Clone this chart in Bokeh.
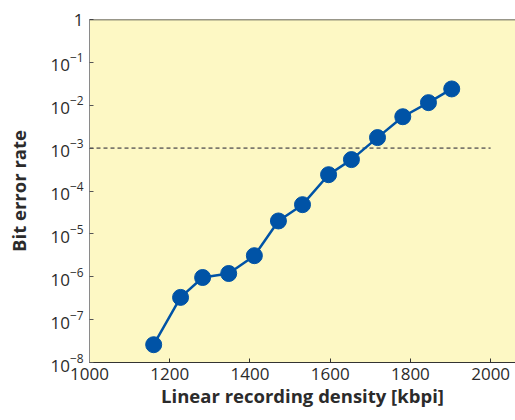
from bokeh.plotting import figure
from bokeh.models import FixedTicker, Span, LogTickFormatter
from bokeh.embed import file_html
from bokeh.resources import INLINE

density = [1160, 1227, 1282, 1347, 1411, 1471, 1531, 1596, 1653, 1718, 1781, 1845, 1903]
ber = [2.6e-8, 3.3e-7, 9.6e-7, 1.19e-6, 3.1e-6, 2.0e-5, 4.8e-5, 2.4e-4, 5.4e-4, 1.76e-3, 5.4e-3, 1.15e-2, 2.4e-2]
threshold = 1e-3
threshold_x = [1000, 2000]
x_ticks = [1000, 1200, 1400, 1600, 1800, 2000]
y_ticks = [1e-8, 1e-7, 1e-6, 1e-5, 1e-4, 1e-3, 1e-2, 1e-1, 1]

FONT = "Open Sans"
TXT = "#2b2b2b"

p = figure(width=515, height=420, output_backend="svg", toolbar_location=None,
           y_axis_type="log", x_range=(1000, 2062), y_range=(1e-8, 1),
           min_border_left=89, min_border_right=0, min_border_top=19, min_border_bottom=58)

p.background_fill_color = "#FDF8C4"
p.border_fill_color = "white"
p.outline_line_color = None
p.grid.visible = False

p.line(threshold_x, [threshold, threshold], line_color="#7d7a6e", line_width=1.6, line_dash="4 3")
p.line(density, ber, line_color="#0053A6", line_width=2.5)
p.scatter(density, ber, size=16, fill_color="#0053A6", line_color="#0053A6")

p.add_layout(Span(location=1, dimension="width", line_color="#333333", line_width=1.5))

p.xaxis.ticker = FixedTicker(ticks=x_ticks)
p.yaxis.ticker = FixedTicker(ticks=y_ticks)
p.yaxis.formatter = LogTickFormatter()
p.yaxis.major_label_overrides = {1: "1"}

for ax in (p.xaxis[0], p.yaxis[0]):
    ax.major_tick_in = 4
    ax.major_tick_out = 0
    ax.minor_tick_in = 0
    ax.minor_tick_out = 0
    ax.major_label_text_font = FONT
    ax.major_label_text_font_size = "17px"
    ax.major_label_text_color = TXT
    ax.axis_label_text_font = FONT
    ax.axis_label_text_font_size = "18.5px"
    ax.axis_label_text_font_style = "bold"
    ax.axis_label_text_color = TXT

p.xaxis.axis_label = "Linear recording density [kbpi]"
p.yaxis.axis_label = "Bit error rate"
p.xaxis.axis_line_color = "#333333"
p.xaxis.major_tick_line_color = "#333333"
p.yaxis.axis_line_color = "#8a8a8a"
p.yaxis.major_tick_line_color = "#555555"
p.xaxis.major_label_standoff = 5
p.xaxis.axis_label_standoff = 0
p.yaxis.major_label_standoff = 6
p.yaxis.axis_label_standoff = 16

open("out.html", "w").write(file_html(p, INLINE))
